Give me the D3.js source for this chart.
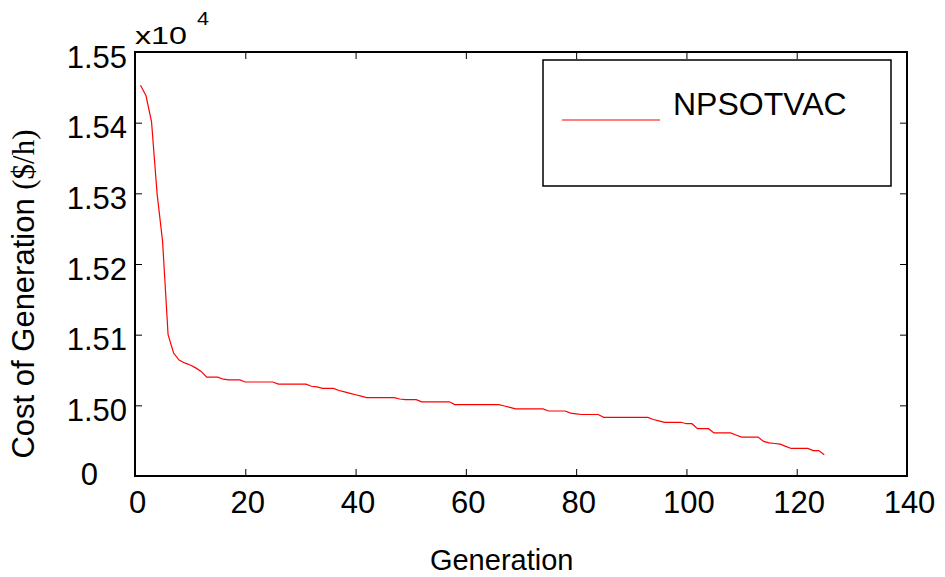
<!DOCTYPE html>
<html>
<head>
<meta charset="utf-8">
<script src="https://cdn.jsdelivr.net/npm/d3@7"></script>
<style>
    body { margin: 0; background: #fff; }
    text { font-family: "Liberation Sans", Arial, sans-serif; fill: #000; }
</style>
</head>
<body>
<div id="graph"></div>
<script>
/*global d3 */

// cout de generation ($/h), une valeur par generation (1 a 125)
var couts = [
    15453, 15438, 15401, 15300, 15232, 15100, 15074, 15064, 15060, 15057,
    15053, 15048, 15040, 15040, 15040, 15037, 15036, 15036, 15036, 15033,
    15033, 15033, 15033, 15033, 15033, 15030, 15030, 15030, 15030, 15030,
    15030, 15027, 15026, 15024, 15024, 15024, 15021, 15019, 15017, 15015,
    15013, 15011, 15011, 15011, 15011, 15011, 15011, 15009, 15008, 15008,
    15008, 15005, 15005, 15005, 15005, 15005, 15005, 15001, 15001, 15001,
    15001, 15001, 15001, 15001, 15001, 15001, 14999, 14997, 14995, 14995,
    14995, 14995, 14995, 14995, 14992, 14992, 14992, 14992, 14989, 14988,
    14987, 14987, 14987, 14987, 14983, 14983, 14983, 14983, 14983, 14983,
    14983, 14983, 14983, 14980, 14978, 14976, 14976, 14976, 14976, 14974,
    14974, 14967, 14967, 14967, 14961, 14961, 14961, 14961, 14958, 14955,
    14955, 14955, 14955, 14949, 14947, 14946, 14945, 14942, 14939, 14939,
    14939, 14939, 14936, 14936, 14930
];
var ticks_x = [0, 20, 40, 60, 80, 100, 120, 140];
var ticks_y = [14900, 15000, 15100, 15200, 15300, 15400, 15500];
var libelles_y = ["0", "1.50", "1.51", "1.52", "1.53", "1.54", "1.55"];
var serie = "NPSOTVAC";

function dessinCourbe() {
    "use strict";
    var margin = {top: 52, right: 38, bottom: 101, left: 135},
        width = 945 - margin.left - margin.right,
        height = 577 - margin.top - margin.bottom,
        tick = 7,

        svg = d3.select("#graph")
            .append("svg")
                .attr("width", 945)
                .attr("height", 577)
            .append("g")
                .attr("transform", "translate(" + margin.left + "," + margin.top + ")"),

        x = d3.scaleLinear().domain([0, 140]).range([0, width]),
        y = d3.scaleLinear().domain([14900, 15500]).range([height, 0]),

        donnees = couts.map(function (c, i) { return {gen: i + 1, cout: c}; });

    function nettoie(g) {
        g.select(".domain").remove();
        g.selectAll(".tick line").attr("stroke", "#000").attr("stroke-width", 1);
    }

    // axes (graduations vers l'interieur, comme matlab)
    svg.append("g")
        .attr("transform", "translate(0," + height + ")")
        .call(d3.axisBottom(x).tickValues(ticks_x).tickSizeInner(-tick).tickSizeOuter(0).tickPadding(37))
        .call(nettoie)
        .selectAll("text")
            .attr("dy", 0)
            .attr("dx", 2)
            .style("font-size", "31px")
            .style("font-family", "Liberation Sans, Arial, sans-serif");

    svg.append("g")
        .call(d3.axisTop(x).tickValues(ticks_x).tickSizeInner(-tick).tickSizeOuter(0).tickFormat(""))
        .call(nettoie);

    svg.append("g")
        .call(d3.axisLeft(y).tickValues(ticks_y).tickSizeInner(-tick).tickSizeOuter(0)
            .tickFormat(function (d, i) { return libelles_y[i]; }).tickPadding(8))
        .call(nettoie)
        .selectAll("text")
            .attr("dy", 15)
            .style("font-size", "31px")
            .style("font-family", "Liberation Sans, Arial, sans-serif")
            .filter(function (d) { return d === 14900; })
                .attr("x", -37)
                .attr("dy", 8);

    svg.append("g")
        .attr("transform", "translate(" + width + ",0)")
        .call(d3.axisRight(y).tickValues(ticks_y).tickSizeInner(-tick).tickSizeOuter(0).tickFormat(""))
        .call(nettoie);

    svg.append("rect")
        .attr("width", width)
        .attr("height", height)
        .attr("fill", "none")
        .attr("stroke", "#000")
        .attr("stroke-width", 2);

    // facteur d'echelle
    svg.append("text")
        .attr("x", 0)
        .attr("y", -8)
        .attr("textLength", 52)
        .attr("lengthAdjust", "spacingAndGlyphs")
        .style("font-size", "24px")
        .text("x10");
    svg.append("text")
        .attr("x", 62)
        .attr("y", -27)
        .attr("textLength", 12)
        .attr("lengthAdjust", "spacingAndGlyphs")
        .style("font-size", "19px")
        .text("4");

    // titres
    svg.append("text")
        .attr("x", x(66.5))
        .attr("y", height + 94)
        .style("text-anchor", "middle")
        .style("font-size", "29px")
        .text("Generation");

    var titre_y = svg.append("text")
        .attr("transform", "translate(" + (34 - margin.left) + "," + (294 - margin.top) + ") rotate(-90)")
        .style("text-anchor", "middle")
        .style("font-size", "31px");
    titre_y.append("tspan").text("Cost of Generation ");
    titre_y.append("tspan")
        .style("font-family", "Liberation Serif, Times New Roman, serif")
        .text("($/h)");

    // courbe
    svg.append("path")
        .datum(donnees)
        .attr("fill", "none")
        .attr("stroke", "#ff0000")
        .attr("stroke-width", 1.2)
        .attr("d", d3.line()
            .x(function (d) { return x(d.gen); })
            .y(function (d) { return y(d.cout); })
            );

    // legende
    var legende = svg.append("g")
        .attr("transform", "translate(" + (543 - margin.left) + "," + (60 - margin.top) + ")");
    legende.append("rect")
        .attr("width", 348)
        .attr("height", 126)
        .attr("fill", "#fff")
        .attr("stroke", "#000")
        .attr("stroke-width", 1.5);
    legende.append("line")
        .attr("x1", 19)
        .attr("x2", 117)
        .attr("y1", 60)
        .attr("y2", 60)
        .attr("stroke", "#ff0000")
        .attr("stroke-width", 1.2);
    legende.append("text")
        .attr("x", 130)
        .attr("y", 55)
        .style("font-size", "32px")
        .text(serie);
}

dessinCourbe();
</script>
</body>
</html>
